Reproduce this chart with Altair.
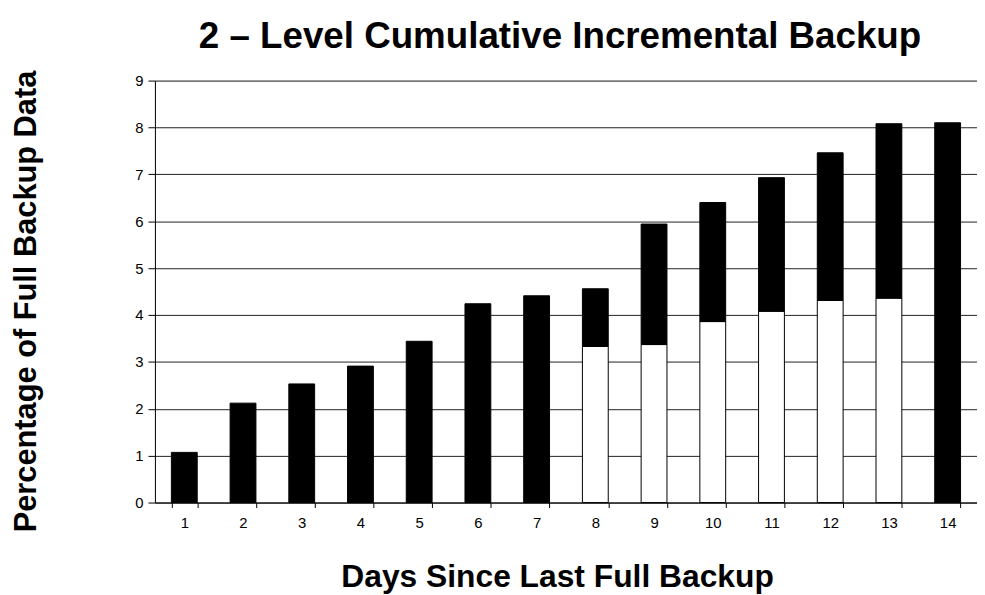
import altair as alt
import pandas as pd

days = list(range(1, 15))
# lower (white) part of each bar, cumulative level contribution
lower_part = [0, 0, 0, 0, 0, 0, 0, 3.33, 3.37, 3.86, 4.08, 4.31, 4.36, 0]
# total bar height
totals = [1.07, 2.12, 2.53, 2.91, 3.44, 4.24, 4.41, 4.56, 5.94, 6.40, 6.93, 7.46, 8.08, 8.10]

rows = []
for d, lo, tot in zip(days, lower_part, totals):
    if lo > 0:
        rows.append({"day": d, "part": "lower", "start": 0.0, "end": lo})
    rows.append({"day": d, "part": "upper", "start": lo, "end": tot})
df = pd.DataFrame(rows)

FONT = "Liberation Sans"

bars = alt.Chart(df).mark_bar(stroke="black", strokeWidth=1).encode(
    x=alt.X(
        "day:O",
        scale=alt.Scale(paddingInner=0.56, paddingOuter=0.28),
        axis=alt.Axis(
            title="Days Since Last Full Backup",
            labelAngle=0,
            labelFont=FONT,
            labelFontSize=15,
            labelColor="black",
            labelPadding=8,
            tickBand="extent",
            tickSize=5,
            tickColor="black",
            domainColor="black",
            grid=False,
            titleFont=FONT,
            titleFontSize=32,
            titleFontWeight="bold",
            titleColor="black",
            titleBaseline="alphabetic",
            titleAlign="center",
            titleX=405,
            titleY=85,
        ),
    ),
    y=alt.Y(
        "start:Q",
        scale=alt.Scale(domain=[0, 9], nice=False),
        axis=alt.Axis(
            title="Percentage of Full Backup Data",
            values=list(range(0, 10)),
            labelFont=FONT,
            labelFontSize=15,
            labelColor="black",
            labelPadding=5,
            tickSize=7,
            tickColor="black",
            domainColor="black",
            grid=True,
            gridColor="#222222",
            gridWidth=1,
            titleFont=FONT,
            titleFontSize=31,
            titleFontWeight="bold",
            titleColor="black",
            titleAngle=-90,
            titleBaseline="alphabetic",
            titleAlign="center",
            titleX=-120,
            titleY=222,
        ),
    ),
    y2="end:Q",
    color=alt.Color(
        "part:N",
        scale=alt.Scale(domain=["lower", "upper"], range=["white", "black"]),
        legend=None,
    ),
)

chart = bars.properties(
    width=828,
    height=425,
    padding={"left": 148, "top": 71, "right": 0, "bottom": 91},
    autosize=alt.AutoSizeParams(type="none"),
    title=alt.TitleParams(
        text="2 – Level Cumulative Incremental Backup",
        font=FONT,
        fontSize=37,
        fontWeight="bold",
        color="black",
        anchor="middle",
        dx=-6,
        offset=14,
    ),
).configure_view(stroke=None).configure(background="white")

chart.save("out.html", embed_options={"renderer": "svg", "actions": False})
